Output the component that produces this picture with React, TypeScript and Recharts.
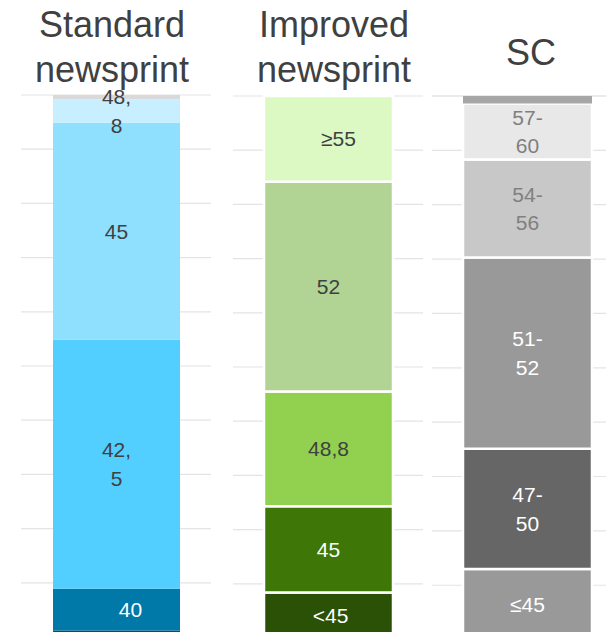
import { BarChart, Bar, XAxis, YAxis, CartesianGrid, LabelList } from 'recharts';

const FONT = '"Liberation Sans", Arial, sans-serif';

// shares (%) per paper grade, listed bottom -> top of each column
const standardValues = [1.2, 7.7, 46.0, 40.0, 4.3, 0.8];
const standardLabels = ['', '40', '42,\n5', '45', '48,\n8', ''];
const standardColors = ['#00506f', '#0079a8', '#52cfff', '#8fe0ff', '#c7efff', '#d9d9d9'];
const standardText = ['#ffffff', '#ffffff', '#404040', '#404040', '#404040', '#404040'];

const improvedValues = [8.4, 15.9, 21.2, 38.7, 15.8];
const improvedLabels = ['<45', '45', '48,8', '52', '≥55'];
const improvedColors = ['#2a5106', '#3e7608', '#92d050', '#b1d393', '#dcf9c4'];
const improvedText = ['#ffffff', '#ffffff', '#404040', '#404040', '#404040'];

const scValues = [13.0, 22.1, 35.2, 18.0, 10.3, 1.4];
const scLabels = ['≤45', '47-\n50', '51-\n52', '54-\n56', '57-\n60', ''];
const scColors = ['#999999', '#666666', '#999999', '#c8c8c8', '#e8e8e8', '#a6a6a6'];
const scText = ['#ffffff', '#ffffff', '#ffffff', '#808080', '#808080', '#808080'];

const yTicks = [0, 10, 20, 30, 40, 50, 60, 70, 80, 90, 100];

type PanelProps = {
  left: number;
  top: number;
  plotHeight: number;
  values: number[];
  labels: string[];
  colors: string[];
  textColors: string[];
  labelShift: number[];
  outlined: boolean[];
  barSize: number;
};

function renderLabel(text: string, color: string, shift: number) {
  return (props: any) => {
    const { x, y, width, height } = props;
    if (!text) return null;
    const lines = text.split('\n');
    const cx = Number(x) + Number(width) / 2 + shift;
    const cy = Number(y) + Number(height) / 2;
    const lh = 28.5;
    const first = cy - ((lines.length - 1) * lh) / 2 + 7.5;
    return (
      <text x={cx} textAnchor="middle" fill={color} fontSize={21} fontFamily={FONT}>
        {lines.map((l, i) => (
          <tspan key={i} x={cx} y={first + i * lh}>
            {l}
          </tspan>
        ))}
      </text>
    );
  };
}

function Panel(p: PanelProps) {
  const row: Record<string, any> = { name: 'x' };
  p.values.forEach((v, i) => {
    row['s' + i] = v;
  });
  return (
    <div style={{ position: 'absolute', left: p.left, top: p.top - 10 }}>
      <BarChart
        width={190}
        height={p.plotHeight + 20}
        data={[row]}
        margin={{ top: 10, right: 0, bottom: 10, left: 0 }}
        style={{ overflow: 'visible' }}
      >
        <CartesianGrid vertical={false} stroke="#e4e4e4" strokeWidth={1.2} />
        <XAxis dataKey="name" hide />
        <YAxis type="number" domain={[0, 100]} ticks={yTicks} hide />
        {p.values.map((_, i) => (
          <Bar
            key={i}
            dataKey={'s' + i}
            stackId="a"
            fill={p.colors[i]}
            stroke={p.outlined[i] ? '#ffffff' : 'none'}
            strokeWidth={p.outlined[i] ? 2.5 : 0}
            barSize={p.barSize}
            isAnimationActive={false}
          >
            <LabelList content={renderLabel(p.labels[i], p.textColors[i], p.labelShift[i])} />
          </Bar>
        ))}
      </BarChart>
    </div>
  );
}

const titleStyle = (cx: number, top: number): React.CSSProperties => ({
  position: 'absolute',
  left: cx - 110,
  top,
  width: 220,
  textAlign: 'center',
  fontSize: 36,
  lineHeight: '45px',
  color: '#404040',
  fontFamily: FONT,
  whiteSpace: 'nowrap',
});

export default function App() {
  return (
    <div
      style={{
        position: 'absolute',
        left: 0,
        top: 0,
        width: 606,
        height: 632,
        overflow: 'hidden',
        background: '#ffffff',
      }}
    >
      <Panel
        left={21}
        top={95}
        plotHeight={542}
        values={standardValues}
        labels={standardLabels}
        colors={standardColors}
        textColors={standardText}
        labelShift={[0, 14, 0, 0, 0, 0]}
        outlined={[false, false, false, false, false, false]}
        barSize={127}
      />
      <Panel
        left={233}
        top={95.5}
        plotHeight={542}
        values={improvedValues}
        labels={improvedLabels}
        colors={improvedColors}
        textColors={improvedText}
        labelShift={[2, 0, 0, 0, 10]}
        outlined={[true, true, true, true, true]}
        barSize={129}
      />
      <Panel
        left={432}
        top={95.6}
        plotHeight={543.6}
        values={scValues}
        labels={scLabels}
        colors={scColors}
        textColors={scText}
        labelShift={[0, 0, 0, 0, 0, 0]}
        outlined={[true, true, true, true, true, false]}
        barSize={129}
      />
      <div style={titleStyle(112, 2)}>
        Standard
        <br />
        newsprint
      </div>
      <div style={titleStyle(334, 2)}>
        Improved
        <br />
        newsprint
      </div>
      <div style={titleStyle(531, 30)}>SC</div>
    </div>
  );
}
